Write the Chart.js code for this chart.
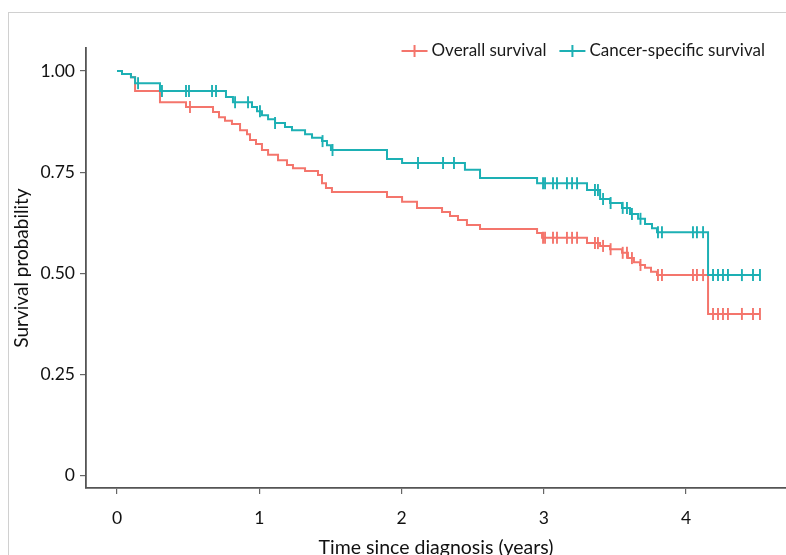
<!DOCTYPE html>
<html>
<head>
<meta charset="utf-8">
<script src="https://cdn.jsdelivr.net/npm/chart.js@4.4.1/dist/chart.umd.min.js"></script>
<style>
  html, body { margin: 0; padding: 0; background: #fff; }
  #wrap { position: relative; width: 786px; height: 555px; overflow: hidden; }
  #frame { position: absolute; left: 8px; top: 12px; width: 900px; height: 700px; border: 1px solid #d0d0d0; }
  canvas { position: absolute; left: 0; top: 0; }
</style>
</head>
<body>
<div id="wrap">
  <div id="frame"></div>
  <canvas id="km" width="786" height="555"></canvas>
</div>
<script>
// Overall survival: step times (years) and survival after each step
const osTime = [0, 0.035, 0.098, 0.127, 0.302, 0.485, 0.675, 0.717, 0.759, 0.808, 0.865, 0.914, 0.935,
  0.977, 1.019, 1.062, 1.132, 1.195, 1.237, 1.322, 1.413, 1.441, 1.469, 1.511, 1.898, 2.004, 2.109,
  2.285, 2.341, 2.397, 2.460, 2.552, 2.953, 2.988, 3.304, 3.396, 3.466, 3.550, 3.592, 3.634, 3.677,
  3.712, 3.754, 3.796, 4.155, 4.520];
const osSurv = [1, 0.993, 0.985, 0.951, 0.923, 0.911, 0.899, 0.886, 0.877, 0.869, 0.854, 0.844, 0.830,
  0.820, 0.805, 0.793, 0.780, 0.768, 0.760, 0.753, 0.743, 0.723, 0.711, 0.701, 0.689, 0.677, 0.662,
  0.652, 0.642, 0.632, 0.620, 0.610, 0.600, 0.588, 0.575, 0.568, 0.560, 0.551, 0.538, 0.528, 0.521,
  0.514, 0.504, 0.496, 0.400, 0.400];
const osCensor = [0.513, 2.995, 3.009, 3.065, 3.093, 3.163, 3.199, 3.234, 3.360, 3.381, 3.417, 3.470,
  3.555, 3.585, 3.620, 3.680, 3.803, 3.831, 4.049, 4.077, 4.120, 4.190, 4.225, 4.260, 4.295, 4.393,
  4.471, 4.520];

// Cancer-specific survival
const cssTime = [0, 0.035, 0.098, 0.127, 0.302, 0.766, 0.815, 0.949, 0.984, 1.019, 1.062, 1.111, 1.181,
  1.230, 1.322, 1.371, 1.441, 1.476, 1.504, 1.898, 2.004, 2.446, 2.552, 2.953, 3.304, 3.396, 3.466,
  3.550, 3.606, 3.663, 3.712, 3.761, 3.796, 4.155, 4.520];
const cssSurv = [1, 0.993, 0.985, 0.970, 0.951, 0.936, 0.923, 0.911, 0.901, 0.891, 0.881, 0.872, 0.862,
  0.854, 0.844, 0.835, 0.827, 0.817, 0.805, 0.783, 0.773, 0.756, 0.736, 0.723, 0.706, 0.684, 0.674,
  0.662, 0.647, 0.635, 0.622, 0.612, 0.602, 0.496, 0.496];
const cssCensor = [0.148, 0.316, 0.485, 0.506, 0.668, 0.696, 0.830, 0.921, 1.005, 1.111, 1.445, 1.515,
  2.116, 2.292, 2.369, 2.995, 3.009, 3.065, 3.093, 3.163, 3.199, 3.234, 3.360, 3.381, 3.417, 3.470,
  3.555, 3.585, 3.620, 3.680, 3.803, 3.831, 4.049, 4.077, 4.120, 4.190, 4.225, 4.260, 4.295, 4.393,
  4.471, 4.520];

const xTicks = [0, 1, 2, 3, 4];
const yTicks = [0, 0.25, 0.5, 0.75, 1];
const seriesNames = ['Overall survival', 'Cancer-specific survival'];

const RED = '#F4756C';
const TEAL = '#1DB0B4';
const FONT = 'Lato, "Open Sans", sans-serif';

function steps(times, surv) {
  return times.map((t, i) => ({ x: t, y: surv[i] }));
}

// survival value of the step curve at time t
function survAt(times, surv, t) {
  let v = surv[0];
  for (let i = 0; i < times.length; i++) {
    if (times[i] <= t + 1e-9) v = surv[i];
  }
  return v;
}

function marks(cens, times, surv) {
  return cens.map(t => ({ x: t, y: survAt(times, surv, t) }));
}

function censorSet(data, color) {
  return {
    data,
    showLine: false,
    pointStyle: 'line',
    rotation: 90,
    pointRadius: 6,
    pointHoverRadius: 6,
    pointBorderWidth: 1.9,
    pointBorderColor: color,
    pointBackgroundColor: color,
    order: -1
  };
}

const legendPlugin = {
  id: 'kmLegend',
  afterDraw(chart) {
    const ctx = chart.ctx;
    ctx.save();
    ctx.font = '17px ' + FONT;
    ctx.textBaseline = 'middle';
    ctx.fillStyle = '#1a1a1a';
    const y = 51;
    const items = [[seriesNames[0], RED], [seriesNames[1], TEAL]];
    let right = 765;
    const pos = [];
    for (let i = items.length - 1; i >= 0; i--) {
      const w = ctx.measureText(items[i][0]).width;
      const textX = right - w;
      const keyX = textX - 4 - 26;
      pos[i] = { textX, keyX };
      right = keyX - 13;
    }
    items.forEach(([label, color], i) => {
      const { textX, keyX } = pos[i];
      ctx.strokeStyle = color;
      ctx.lineWidth = 2;
      ctx.beginPath();
      ctx.moveTo(keyX, y);
      ctx.lineTo(keyX + 26, y);
      ctx.moveTo(keyX + 13, y - 6);
      ctx.lineTo(keyX + 13, y + 6);
      ctx.stroke();
      ctx.fillText(label, textX, y);
    });
    ctx.restore();
  }
};

new Chart(document.getElementById('km'), {
  type: 'line',
  data: {
    datasets: [
      {
        data: steps(cssTime, cssSurv),
        stepped: true,
        borderColor: TEAL,
        borderWidth: 2,
        pointRadius: 0,
        fill: false,
        order: 0
      },
      {
        data: steps(osTime, osSurv),
        stepped: true,
        borderColor: RED,
        borderWidth: 2,
        pointRadius: 0,
        fill: false,
        order: 1
      },
      censorSet(marks(cssCensor, cssTime, cssSurv), TEAL),
      censorSet(marks(osCensor, osTime, osSurv), RED)
    ]
  },
  options: {
    responsive: false,
    animation: false,
    layout: { autoPadding: false, padding: { top: 48, right: 0, left: 0, bottom: 0 } },
    plugins: { legend: { display: false }, tooltip: { enabled: false } },
    scales: {
      x: {
        type: 'linear',
        min: -0.218,
        max: 4.703,
        afterBuildTicks: s => { s.ticks = xTicks.map(v => ({ value: v })); },
        afterFit: s => { s.height = 67; s.paddingLeft = 0; s.paddingRight = 0; },
        grid: { drawOnChartArea: false, drawTicks: true, tickLength: 6, color: '#666', lineWidth: 1.2 },
        border: { display: true, color: '#555', width: 1.8 },
        ticks: { color: '#111', font: { family: FONT, size: 17.5 }, padding: 14, callback: v => String(v) },
        title: { display: true, text: 'Time since diagnosis (years)', color: '#111',
          font: { family: FONT, size: 19.5 }, padding: { top: 0, bottom: -4 } }
      },
      y: {
        min: -0.03,
        max: 1.057,
        afterBuildTicks: s => { s.ticks = yTicks.map(v => ({ value: v })); },
        afterFit: s => { s.width = 86; s.paddingTop = 0; s.paddingBottom = 0; },
        grid: { drawOnChartArea: false, drawTicks: true, tickLength: 6, color: '#666', lineWidth: 1.2 },
        border: { display: true, color: '#555', width: 1.8 },
        ticks: { color: '#111', font: { family: FONT, size: 17.5 }, padding: 5,
          callback: v => (v === 0 ? '0' : v.toFixed(2)) },
        title: { display: true, text: 'Survival probability', color: '#111',
          font: { family: FONT, size: 19 }, padding: { top: 10, bottom: 0 } }
      }
    }
  },
  plugins: [legendPlugin]
});
</script>
</body>
</html>
